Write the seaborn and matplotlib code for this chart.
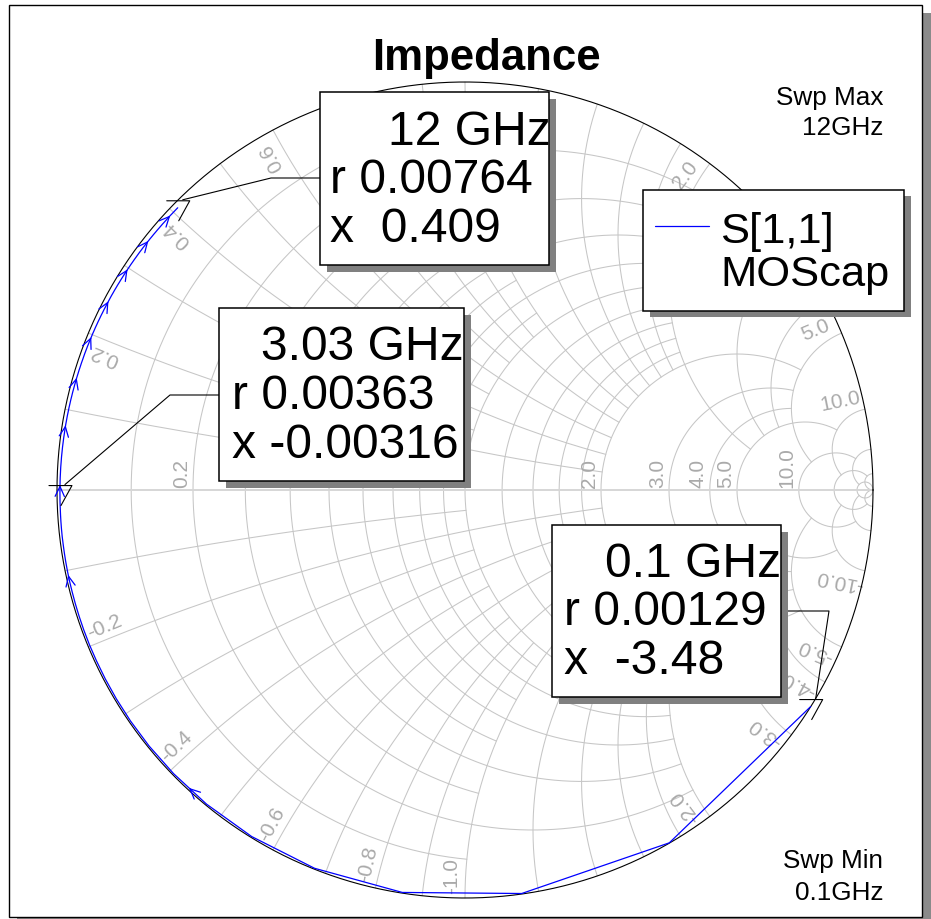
import numpy as np
import pandas as pd
import matplotlib
matplotlib.use("Agg")
import matplotlib.pyplot as plt
import seaborn as sns
from matplotlib.patches import Rectangle

sns.set_style("white")
plt.rcParams["font.family"] = ["Liberation Sans", "DejaVu Sans"]
plt.rcParams["text.color"] = "black"

# ---------------- data ----------------
chart_title = "Impedance"
series_name = "S[1,1]"
series_source = "MOScap"
sweep_max_text = ["Swp Max", "12GHz"]
sweep_min_text = ["Swp Min", "0.1GHz"]

# sweep 0.1 GHz .. 12 GHz, 120 points (normalised impedance z = r + jx)
sweep_ghz = np.linspace(0.1, 12.0, 120)
trace_x = [
    -3.4800, -1.7345, -1.1503, -0.8563, -0.6785, -0.5587, -0.4721, -0.4063, -0.3542, -0.3119,
    -0.2765, -0.2465, -0.2205, -0.1977, -0.1775, -0.1593, -0.1429, -0.1278, -0.1140, -0.1012,
    -0.0892, -0.0780, -0.0675, -0.0575, -0.0481, -0.0391, -0.0305, -0.0222, -0.0143, -0.0066,
    0.0008, 0.0080, 0.0149, 0.0217, 0.0282, 0.0346, 0.0409, 0.0470, 0.0530, 0.0589,
    0.0647, 0.0704, 0.0760, 0.0814, 0.0869, 0.0922, 0.0974, 0.1026, 0.1078, 0.1128,
    0.1179, 0.1228, 0.1277, 0.1326, 0.1374, 0.1422, 0.1470, 0.1517, 0.1563, 0.1610,
    0.1656, 0.1701, 0.1747, 0.1792, 0.1837, 0.1881, 0.1926, 0.1970, 0.2014, 0.2058,
    0.2101, 0.2144, 0.2188, 0.2230, 0.2273, 0.2316, 0.2358, 0.2401, 0.2443, 0.2485,
    0.2527, 0.2568, 0.2610, 0.2652, 0.2693, 0.2734, 0.2775, 0.2816, 0.2857, 0.2898,
    0.2939, 0.2980, 0.3020, 0.3061, 0.3101, 0.3141, 0.3182, 0.3222, 0.3262, 0.3302,
    0.3342, 0.3382, 0.3422, 0.3461, 0.3501, 0.3541, 0.3580, 0.3620, 0.3659, 0.3699,
    0.3738, 0.3777, 0.3817, 0.3856, 0.3895, 0.3934, 0.3973, 0.4012, 0.4051, 0.4090,
]
trace_r = [
    0.0013, 0.0014, 0.0015, 0.0015, 0.0016, 0.0017, 0.0018, 0.0019, 0.0019, 0.0020,
    0.0021, 0.0022, 0.0023, 0.0023, 0.0024, 0.0025, 0.0026, 0.0027, 0.0027, 0.0028,
    0.0029, 0.0030, 0.0031, 0.0031, 0.0032, 0.0033, 0.0034, 0.0035, 0.0035, 0.0036,
    0.0036, 0.0037, 0.0037, 0.0038, 0.0038, 0.0039, 0.0039, 0.0040, 0.0040, 0.0041,
    0.0041, 0.0042, 0.0042, 0.0042, 0.0043, 0.0043, 0.0044, 0.0044, 0.0045, 0.0045,
    0.0046, 0.0046, 0.0047, 0.0047, 0.0048, 0.0048, 0.0049, 0.0049, 0.0050, 0.0050,
    0.0051, 0.0051, 0.0051, 0.0052, 0.0052, 0.0053, 0.0053, 0.0054, 0.0054, 0.0055,
    0.0055, 0.0056, 0.0056, 0.0057, 0.0057, 0.0058, 0.0058, 0.0059, 0.0059, 0.0060,
    0.0060, 0.0060, 0.0061, 0.0061, 0.0062, 0.0062, 0.0063, 0.0063, 0.0064, 0.0064,
    0.0065, 0.0065, 0.0066, 0.0066, 0.0067, 0.0067, 0.0068, 0.0068, 0.0068, 0.0069,
    0.0069, 0.0070, 0.0070, 0.0071, 0.0071, 0.0072, 0.0072, 0.0073, 0.0073, 0.0074,
    0.0074, 0.0074, 0.0075, 0.0075, 0.0075, 0.0075, 0.0076, 0.0076, 0.0076, 0.0076,
]

marker_freq_ghz = [12.0, 3.03, 0.1]
marker_r = [0.00764, 0.00363, 0.00129]
marker_x = [0.409, -0.00316, -3.48]

# Smith-chart grid values and the extent each line is drawn to
grid_fine = [0.1, 0.3, 0.5, 0.7, 0.9]
grid_mid = [0.2, 0.4, 0.6, 0.8, 1.0, 1.2, 1.4, 1.6, 1.8]
grid_coarse = [2.0, 3.0, 4.0]
grid_outer = [5.0, 10.0, 20.0, 50.0]
grid_outer_limit = [10.0, 20.0, 50.0, 1e6]
# grid labels that are visible (the others sit under the marker / legend boxes)
axis_r_labels = [0.2, 2.0, 3.0, 4.0, 5.0, 10.0]
rim_x_labels_pos = [0.2, 0.4, 0.6, 2.0, 5.0, 10.0]
rim_x_labels_neg = [-0.2, -0.4, -0.6, -0.8, -1.0, -2.0, -3.0, -4.0, -5.0, -10.0]

# ---------------- layout ----------------
W, H = 931, 920
CX, CY, RAD = 465.0, 491.0, 408.0

fig = plt.figure(figsize=(W / 100, H / 100), dpi=100)
ax = fig.add_axes([0, 0, 1, 1])


def fxy(px, py):
    return (px / W, 1 - py / H)


def dxy(px, py):
    return ((px - CX) / RAD, (CY - py) / RAD)


def gamma(r, x):
    z = np.asarray(r, dtype=float) + 1j * np.asarray(x, dtype=float)
    return (z - 1) / (z + 1)


def rect_px(x0, y0, x1, y1, **kw):
    p = Rectangle((x0 / W, 1 - y1 / H), (x1 - x0) / W, (y1 - y0) / H,
                  transform=fig.transFigure, **kw)
    ax.add_patch(p)
    return p


# outer frame with shadow
rect_px(17, 14, 931, 926, facecolor="#8a8a8a", edgecolor="none", zorder=0)
rect_px(9, 6, 922, 918, facecolor="white", edgecolor="black", lw=1.0, zorder=0.1)

GRID_C = "#c6c6c6"
GRID_LW = 0.75


def draw_r(r, xmax):
    t = np.linspace(-np.arctan(xmax), np.arctan(xmax), 1500)
    g = gamma(r, np.tan(t))
    ax.plot(g.real, g.imag, color=GRID_C, lw=GRID_LW, zorder=1)


def draw_x(x, rmax):
    t = np.linspace(0, np.arctan(rmax), 1500)
    g = gamma(np.tan(t), x)
    ax.plot(g.real, g.imag, color=GRID_C, lw=GRID_LW, zorder=1)


for v in grid_fine:
    draw_r(v, 1.0)
    draw_x(v, 1.0)
    draw_x(-v, 1.0)
for v in grid_mid:
    draw_r(v, 2.0)
    draw_x(v, 2.0)
    draw_x(-v, 2.0)
for v in grid_coarse:
    draw_r(v, 5.0)
    draw_x(v, 5.0)
    draw_x(-v, 5.0)
for v, lim in zip(grid_outer, grid_outer_limit):
    draw_r(v, lim)
    draw_x(v, lim)
    draw_x(-v, lim)

# real axis
ax.plot([-1, 1], [0, 0], color="#d6d6d6", lw=1.4, zorder=1)

# unit circle
th = np.linspace(0, 2 * np.pi, 1000)
ax.plot(np.cos(th), np.sin(th), color="black", lw=0.8, zorder=3)

# grid labels
LAB_C = "#aaaaaa"
LAB_FS = 15
for v in axis_r_labels:
    xc = (v - 1) / (v + 1)
    ax.text(xc - 2 / RAD, 3 / RAD, f"{v:.1f}", rotation=90, ha="right", va="bottom",
            color=LAB_C, fontsize=LAB_FS, zorder=2)
for v in rim_x_labels_pos + rim_x_labels_neg:
    s = 1 if v > 0 else -1
    g = gamma(0.0, v)
    ang = np.degrees(np.angle(g))
    ang_l = np.radians(ang + 2.0 * s)
    rr = 0.945
    rot = ang if s > 0 else ang + 180
    ax.text(rr * np.cos(ang_l), rr * np.sin(ang_l), f"{v:.1f}", rotation=rot,
            rotation_mode="anchor", ha="center", va="center",
            color=LAB_C, fontsize=LAB_FS, zorder=2)

# trace
g_tr = gamma(trace_r, trace_x)
df = pd.DataFrame({"freq": sweep_ghz, "re": g_tr.real, "im": g_tr.imag})
sns.lineplot(data=df, x="re", y="im", sort=False, estimator=None, color="#0000ff",
             lw=0.9, ax=ax, legend=False, zorder=4)

# direction arrows (every 12th segment)
L = 11 / RAD
ha_ = np.radians(25)
for i in range(6, len(g_tr) - 1, 12):
    a, b = g_tr[i], g_tr[i + 1]
    mid = (a + b) / 2
    d = (b - a) / abs(b - a)
    for s in (1, -1):
        arm = mid - L * d * np.exp(1j * s * ha_)
        ax.plot([mid.real, arm.real], [mid.imag, arm.imag], color="#0000ff", lw=0.9, zorder=4)

# markers + leader lines + boxes
g_m = gamma(marker_r, marker_x)
boxes = [
    dict(box=(320, 93, 549, 266), start=(320, 179), elbow=(271, 179), left=330, right=551,
         base=(145, 193, 242)),
    dict(box=(219, 309, 464, 482), start=(219, 396), elbow=(170, 396), left=232, right=464,
         base=(360, 409, 458)),
    dict(box=(552, 526, 781, 698), start=(781, 612), elbow=(829, 612), left=564, right=781,
         base=(577, 625, 674)),
]
BOX_FS = 34.6
for k, (f, r, x) in enumerate(zip(marker_freq_ghz, marker_r, marker_x)):
    P = g_m[k]
    u = 1 / RAD
    px, py = P.real, P.imag
    ax.plot([px - 11 * u, px + 12 * u, px + 1 * u], [py + 7 * u, py + 7 * u, py - 13 * u],
            color="black", lw=0.8, zorder=5)
    b = boxes[k]
    s0 = dxy(*b["start"])
    e0 = dxy(*b["elbow"])
    ax.plot([s0[0], e0[0], px + 5 * u], [s0[1], e0[1], py + 8 * u], color="black", lw=0.8, zorder=5)
    x0, y0, x1, y1 = b["box"]
    rect_px(x0 + 7, y0 + 7, x1 + 7, y1 + 7, facecolor="#808080", edgecolor="none", zorder=6)
    rect_px(x0, y0, x1, y1, facecolor="white", edgecolor="black", lw=1.1, zorder=6.5)
    lines = [f"{f:g} GHz", f"r {r:g}", "x " + "{:>6}".format(f"{x:g}")]
    ax.text(*fxy(b["right"], b["base"][0]), lines[0], ha="right", va="baseline",
            fontsize=BOX_FS, color="black", transform=fig.transFigure, zorder=7)
    ax.text(*fxy(b["left"], b["base"][1]), lines[1], ha="left", va="baseline",
            fontsize=BOX_FS, color="black", transform=fig.transFigure, zorder=7)
    ax.text(*fxy(b["left"], b["base"][2]), lines[2], ha="left", va="baseline",
            fontsize=BOX_FS, color="black", transform=fig.transFigure, zorder=7)

# legend box
rect_px(650, 197, 911, 318, facecolor="#808080", edgecolor="none", zorder=6)
rect_px(643, 191, 904, 312, facecolor="white", edgecolor="black", lw=1.1, zorder=6.5)
l0 = dxy(655, 227)
l1 = dxy(709, 227)
ax.plot([l0[0], l1[0]], [l0[1], l1[1]], color="#0000ff", lw=0.9, zorder=7)
ax.text(*fxy(720, 243), series_name, ha="left", va="baseline", fontsize=31.3,
        color="black", transform=fig.transFigure, zorder=7)
ax.text(*fxy(720, 286), series_source, ha="left", va="baseline", fontsize=31.3,
        color="black", transform=fig.transFigure, zorder=7)

# title and sweep annotations
ax.text(*fxy(486, 70), chart_title, ha="center", va="baseline", fontsize=31.5,
        fontweight="bold", color="black", transform=fig.transFigure, zorder=7)
for txt, yb in zip(sweep_max_text, (105, 135)):
    ax.text(*fxy(883, yb), txt, ha="right", va="baseline", fontsize=18.8,
            color="black", transform=fig.transFigure, zorder=7)
for txt, yb in zip(sweep_min_text, (868, 900)):
    ax.text(*fxy(883, yb), txt, ha="right", va="baseline", fontsize=18.8,
            color="black", transform=fig.transFigure, zorder=7)

ax.set_xlim(-CX / RAD, (W - CX) / RAD)
ax.set_ylim(-(H - CY) / RAD, CY / RAD)
ax.axis("off")

fig.savefig("out.png", dpi=100, facecolor="white")
